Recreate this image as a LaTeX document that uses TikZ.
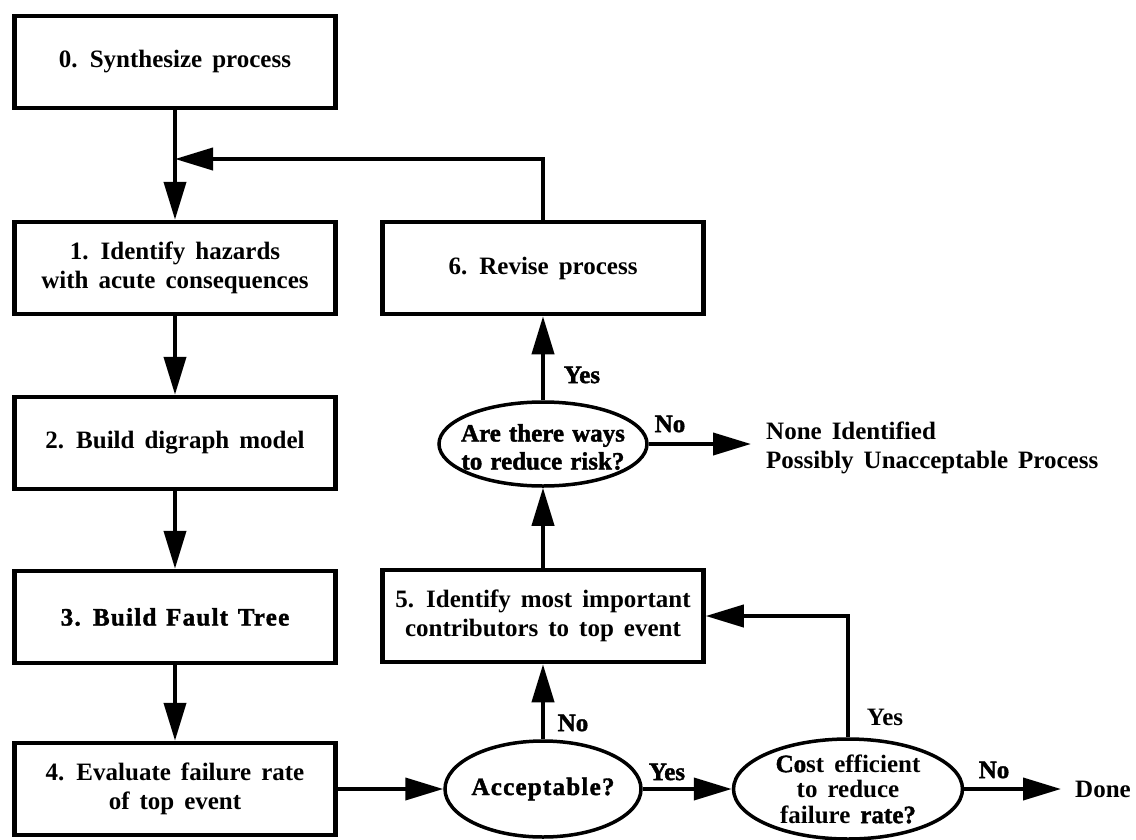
\documentclass[tikz,border=0pt]{standalone}
\usepackage{fontspec}
\setmainfont[WordSpace=1.6]{Liberation Serif}
\newfontfamily\heavyfont[FakeBold=1.6,WordSpace=1.3]{Liberation Serif}
\newfontfamily\heavywide[FakeBold=1.6,WordSpace=1.3,LetterSpace=5]{Liberation Serif}
\usetikzlibrary{arrows.meta,shapes.geometric}
\begin{document}
\begin{tikzpicture}[x=1pt,y=-1pt,
  every node/.style={font=\bfseries\fontsize{25}{29}\selectfont},
  procbox/.style={draw, line width=4.5pt, minimum width=321pt, minimum height=92pt, inner sep=0pt, align=center},
  decis/.style={draw, ellipse, line width=3.5pt, inner sep=0pt},
  dtext/.style={align=center, inner sep=0pt},
  heavy/.style={font=\heavyfont\bfseries\fontsize{25}{29}\selectfont},
  heavywd/.style={font=\heavywide\bfseries\fontsize{25}{29}\selectfont},
  arr/.style={line width=4pt, -{Triangle[length=38pt,width=22pt]}},
  lbl/.style={inner sep=0pt}
]
\useasboundingbox (0,0) rectangle (1136,839);

% process boxes
\node[procbox] (b0) at (175,62) {0. Synthesize process};
\node[procbox] (b1) at (175,268) {1. Identify hazards\\with acute consequences};
\node[procbox] (b2) at (175,443) {2. Build digraph model};
\node[procbox, heavywd] (b3) at (175,617) {3. Build Fault Tree};
\node[procbox] (b4) at (175,789) {4. Evaluate failure rate\\of top event};
\node[procbox] (b6) at (543,268) {6. Revise process};
\node[procbox] (b5) at (543,616) {5. Identify most important\\contributors to top event};

% decisions
\node[decis, minimum width=208pt, minimum height=84pt] (e1) at (543,444) {};
\node[dtext, font=\heavyfont\bfseries\fontsize{25}{28}\selectfont] (e1t) at (543,447) {Are there ways\\to reduce risk?};
\node[decis, minimum width=196pt, minimum height=96pt] (eA) at (543,789) {};
\node[dtext, heavywd] (eAt) at (eA) {Acceptable?};
\node[decis, minimum width=229pt, minimum height=100pt] (eC) at (848,789) {};
\node[dtext, font=\bfseries\fontsize{25}{25.5}\selectfont] (eCt) at (eC) {{\heavyfont Co}st efficient\\to reduce\\failure {\heavyfont rate?}};

% outcome texts
\node[anchor=west, align=left, inner xsep=15pt, inner ysep=0pt] (none) at (751,448) {None Identified\\Possibly Unacceptable Process};
\node[anchor=west, inner xsep=14pt, inner ysep=0pt] (done) at (1061,789) {Done};

% labels
\node[lbl, heavy] (ly1) at (582,375) {Yes};
\node[lbl, heavy] (ln1) at (670,424) {No};
\node[lbl, heavy] (ln2) at (573,723) {No};
\node[lbl, heavy] (ly2) at (667,772) {Yes};
\node[lbl] (ly3) at (885,717) {Yes};
\node[lbl, heavy] (ln3) at (994,770) {No};

% connectors
\coordinate (j) at (175,159);
\draw[arr] (b0.south) -- (b1.north);
\draw[arr] (b6.north) |- (j);
\draw[arr] (b1.south) -- (b2.north);
\draw[arr] (b2.south) -- (b3.north);
\draw[arr] (b3.south) -- (b4.north);
\draw[arr] (b4.east) -- (eA.west);
\draw[arr] (eA.north) -- (b5.south);
\draw[arr] (b5.north) -- (e1.south);
\draw[arr] (e1.north) -- (b6.south);
\draw[arr] (e1.east) -- (e1.east -| none.west);
\draw[arr] (eA.east) -- (eC.west);
\draw[arr] (eC.north) |- (b5.east);
\draw[arr] (eC.east) -- (done.west);
\end{tikzpicture}
\end{document}
